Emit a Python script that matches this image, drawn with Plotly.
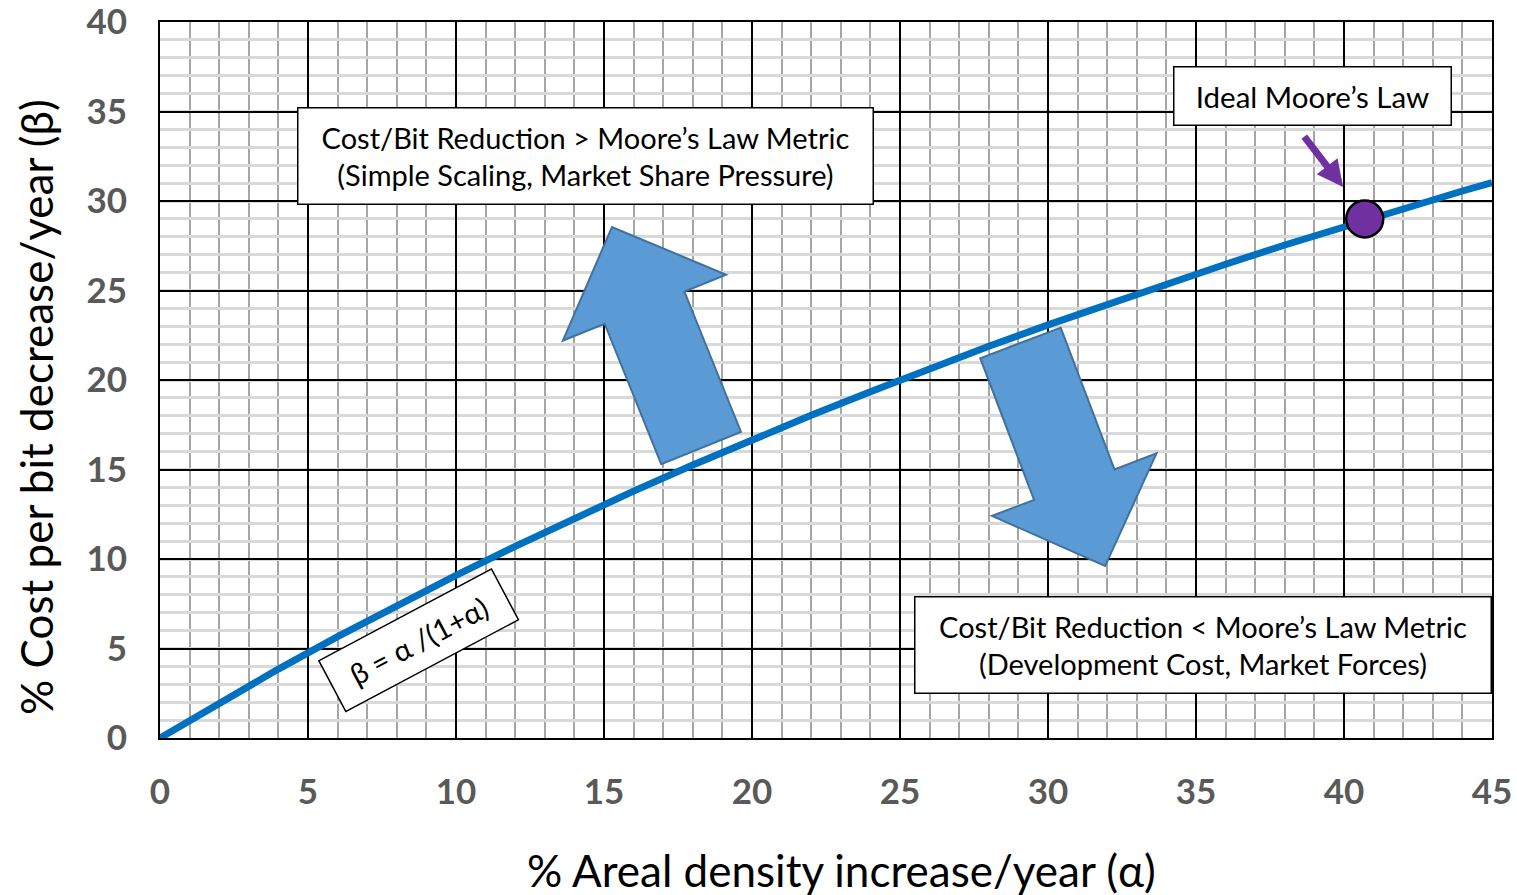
import math
import plotly.graph_objects as go

# ---- data ----
alpha = [0, 2, 4, 6, 8, 10, 12, 14, 16, 18, 20, 22, 24, 26, 28, 30, 32, 34, 36, 38, 40, 42, 44, 45]
beta = [0, 1.96, 3.85, 5.66, 7.41, 9.09, 10.71, 12.28, 13.79, 15.25, 16.67, 18.03, 19.35, 20.63,
        21.88, 23.08, 24.24, 25.37, 26.47, 27.54, 28.57, 29.58, 30.56, 31.03]
ideal_x = [40.7]
ideal_y = [29.0]

x_ticks = [0, 5, 10, 15, 20, 25, 30, 35, 40, 45]
y_ticks = [0, 5, 10, 15, 20, 25, 30, 35, 40]

FONT = "Lato"
W, H = 1517, 895
ML, MR, MT, MB = 160, 25, 22, 157
PW, PH = W - ML - MR, H - MT - MB
XMAX, YMAX = 45, 40
SX, SY = PW / XMAX, PH / YMAX

fig = go.Figure()

fig.add_trace(go.Scatter(x=alpha, y=beta, mode="lines",
                         line=dict(color="#0070C0", width=7), hoverinfo="skip"))
fig.add_trace(go.Scatter(x=ideal_x, y=ideal_y, mode="markers",
                         marker=dict(color="#7030A0", size=37, line=dict(color="black", width=2.5)),
                         hoverinfo="skip"))


def block_arrow(tail, tip, shaft_w=86, head_w=176, head_len=87):
    # work in pixel space so the arrow keeps its shape
    tx, ty = tail[0] * SX, tail[1] * SY
    hx, hy = tip[0] * SX, tip[1] * SY
    dx, dy = hx - tx, hy - ty
    L = math.hypot(dx, dy)
    ux, uy = dx / L, dy / L
    nx, ny = -uy, ux
    bx, by = hx - ux * head_len, hy - uy * head_len
    a, b = shaft_w / 2, head_w / 2
    pts = [(tx + nx * a, ty + ny * a), (bx + nx * a, by + ny * a), (bx + nx * b, by + ny * b),
           (hx, hy), (bx - nx * b, by - ny * b), (bx - nx * a, by - ny * a), (tx - nx * a, ty - ny * a)]
    path = "M " + " L ".join(f"{px / SX:.4f},{py / SY:.4f}" for px, py in pts) + " Z"
    return dict(type="path", path=path, xref="x", yref="y", layer="above",
                fillcolor="#5B9BD5", line=dict(color="#41719C", width=2))


up_tail, up_tip = (18.28, 16.20), (15.27, 28.55)
dn_tail, dn_tip = (29.07, 22.07), (31.93, 9.61)
fig.add_shape(block_arrow(up_tail, up_tip))
fig.add_shape(block_arrow(dn_tail, dn_tip))

box_font = dict(family=FONT, size=29, color="black")
fig.add_annotation(x=14.36, y=32.54, xref="x", yref="y",
                   text="Cost/Bit Reduction &gt; Moore’s Law Metric<br>(Simple Scaling, Market Share Pressure)",
                   showarrow=False, font=box_font, bgcolor="white", bordercolor="black",
                   borderwidth=1.5, borderpad=0, width=574, height=95, align="center")
fig.add_annotation(x=35.22, y=5.17, xref="x", yref="y",
                   text="Cost/Bit Reduction &lt; Moore’s Law Metric<br>(Development Cost, Market Forces)",
                   showarrow=False, font=box_font, bgcolor="white", bordercolor="black",
                   borderwidth=1.5, borderpad=0, width=575, height=95, align="center")
fig.add_annotation(x=38.92, y=35.84, xref="x", yref="y", text="Ideal Moore’s Law",
                   showarrow=False, font=dict(family=FONT, size=29.5, color="black"),
                   bgcolor="white", bordercolor="black",
                   borderwidth=1.5, borderpad=0, width=276, height=57)
fig.add_annotation(x=8.72, y=5.47, xref="x", yref="y", text="β = α /(1+α)",
                   showarrow=False, textangle=-28, font=dict(family=FONT, size=29, color="black"),
                   bgcolor="white", bordercolor="black", borderwidth=1.5, borderpad=0,
                   width=194, height=56)

# purple pointer arrow
fig.add_annotation(x=39.97, y=30.78, xref="x", yref="y", ax=-40, ay=-52, axref="pixel", ayref="pixel",
                   text="", showarrow=True, arrowhead=2, arrowsize=0.75, arrowwidth=7,
                   arrowcolor="#7030A0")

# axis titles
title_font = dict(family=FONT, size=44, color="black")
fig.add_annotation(xref="paper", yref="paper", x=(842 - ML) / PW, y=(738 - 870) / PH,
                   text="% Areal density increase/year (α)", showarrow=False, font=title_font,
                   xanchor="center", yanchor="middle")
fig.add_annotation(xref="paper", yref="paper", x=(36 - ML) / PW, y=(738 - 407) / PH,
                   text="% Cost per bit decrease/year (β)", showarrow=False, font=title_font,
                   textangle=-90, xanchor="center", yanchor="middle")

tick_font = dict(family=FONT, size=35, color="#595959", weight="bold")
fig.update_xaxes(range=[0, XMAX], tickvals=x_ticks, ticktext=[str(v) for v in x_ticks],
                 showgrid=True, gridcolor="black", gridwidth=2,
                 minor=dict(dtick=1, showgrid=True, gridcolor="#A6A6A6", gridwidth=2),
                 showline=True, linecolor="black", linewidth=2, mirror=True,
                 zeroline=False, ticks="", tickfont=tick_font, ticklabelstandoff=22,
                 ticklabeloverflow="allow", fixedrange=True)
fig.update_yaxes(range=[0, YMAX], tickvals=y_ticks, ticktext=[str(v) for v in y_ticks],
                 showgrid=True, gridcolor="black", gridwidth=2,
                 minor=dict(dtick=1, showgrid=True, gridcolor="#D9D9D9", gridwidth=3),
                 showline=True, linecolor="black", linewidth=2, mirror=True,
                 zeroline=False, ticks="", tickfont=tick_font, ticklabelstandoff=24,
                 ticklabeloverflow="allow", fixedrange=True)

fig.update_layout(width=W, height=H, margin=dict(l=ML, r=MR, t=MT, b=MB, autoexpand=False),
                  plot_bgcolor="white", paper_bgcolor="white", showlegend=False,
                  font=dict(family=FONT))

fig.write_html("out.html", config={"displayModeBar": False},
               post_script="document.body.style.margin='0';document.body.style.overflow='hidden';")
